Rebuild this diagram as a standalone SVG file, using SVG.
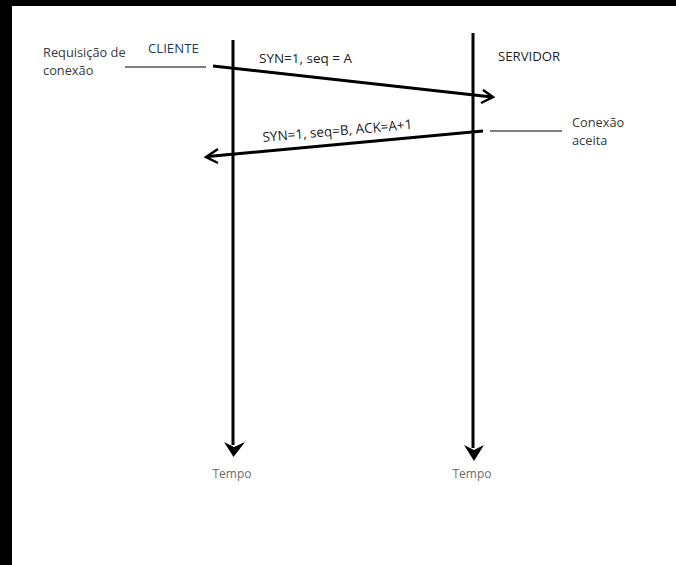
<svg xmlns="http://www.w3.org/2000/svg" width="676" height="565" viewBox="0 0 676 565">
  <style>
    .lbl { font-family: "Open Sans", "Noto Sans", "DejaVu Sans", sans-serif; font-size: 12.8px; fill: #3a3a3a; }
    .msg { font-family: "Open Sans", "Noto Sans", "DejaVu Sans", sans-serif; font-size: 13.5px; fill: #1e1e1e; }
    .ent { font-family: "Open Sans", "Noto Sans", "DejaVu Sans", sans-serif; font-size: 13.2px; }
    .tempo { font-family: "Open Sans", "Noto Sans", "DejaVu Sans", sans-serif; font-size: 12px; fill: #6e6e6e; }
    .life { stroke: #000; stroke-width: 3; fill: none; }
    .msgline { stroke: #000; stroke-width: 3; fill: none; }
    .leader { stroke: #000; stroke-width: 1; fill: none; }
    .chev { stroke: #000; stroke-width: 2.5; fill: none; stroke-linejoin: miter; }
  </style>

  <!-- frame -->
  <rect x="0" y="0" width="676" height="565" fill="#fff"/>
  <rect x="0" y="0" width="676" height="6" fill="#000"/>
  <rect x="0" y="0" width="12" height="565" fill="#000"/>

  <!-- client lifeline -->
  <g id="cliente">
    <line class="life" x1="233" y1="40" x2="233" y2="445"/>
    <path d="M224,442 L233.5,457 L245,442 L234,447 Z" fill="#000"/>
    <text class="ent" x="148" y="53" fill="#1f3864">CLIENTE</text>
    <text class="tempo" x="232" y="478" text-anchor="middle">Tempo</text>
  </g>

  <!-- server lifeline -->
  <g id="servidor">
    <line class="life" x1="473" y1="33" x2="473" y2="448"/>
    <path d="M464,445 L474,461 L484,445 L474,450 Z" fill="#000"/>
    <text class="ent" x="498" y="61" fill="#1e1e1e">SERVIDOR</text>
    <text class="tempo" x="472" y="478" text-anchor="middle">Tempo</text>
  </g>

  <!-- side annotations -->
  <g id="requisicao">
    <text class="lbl" x="43" y="57">Requisição de</text>
    <text class="lbl" x="43" y="75">conexão</text>
  </g>
  <g id="aceita">
    <text class="lbl" x="572" y="127">Conexão</text>
    <text class="lbl" x="572" y="145">aceita</text>
  </g>

  <!-- connectors -->
  <g id="connectors">
    <line class="leader" x1="125" y1="67" x2="206" y2="67"/>
    <line class="leader" x1="490" y1="131" x2="562" y2="131"/>

    <line class="msgline" x1="213" y1="66" x2="492" y2="97"/>
    <path class="chev" d="M483,90 L493,97 L481,103"/>

    <line class="msgline" x1="483" y1="131" x2="208" y2="156.5"/>
    <path class="chev" d="M218,149 L206,157 L218,163"/>

    <text class="msg" x="259" y="63">SYN=1, seq = A</text>
    <text class="msg" x="263" y="142" transform="rotate(-5 263 142)">SYN=1, seq=B, ACK=A+1</text>
  </g>
</svg>
